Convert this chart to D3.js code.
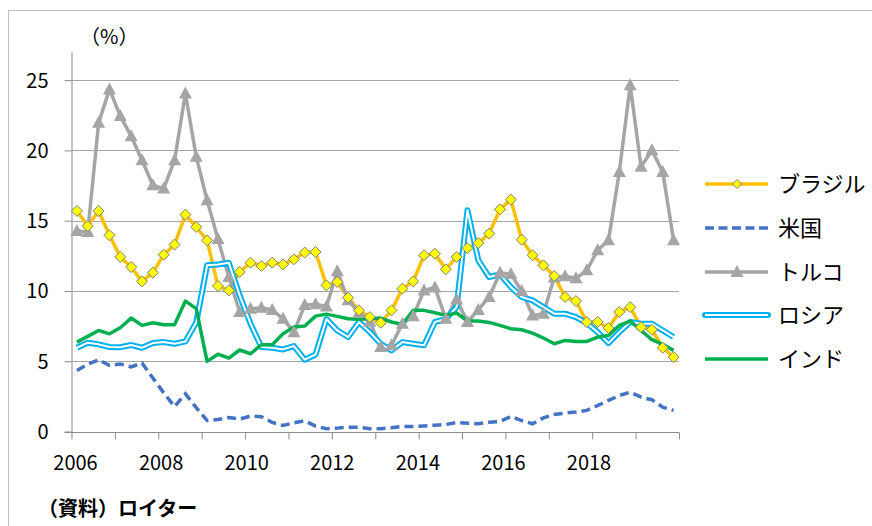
<!DOCTYPE html>
<html>
<head>
<meta charset="utf-8">
<script src="https://cdn.jsdelivr.net/npm/d3@7"></script>
<style>
  body { margin: 0; background: #fff; }
  svg text { font-family: "Noto Sans CJK JP", "Noto Sans", sans-serif; fill: #000; }
</style>
</head>
<body>
<div id="chart"></div>
<script>
// 四半期データ 2006Q1–2019Q4（56点）
const brazil = [15.69, 14.62, 15.69, 13.96, 12.42, 11.70, 10.68, 11.30, 12.58, 13.30, 15.43, 14.55, 13.60, 10.35, 10.04, 11.35,
  12.01, 11.78, 12.01, 11.89, 12.25, 12.73, 12.77, 10.40, 10.64, 9.52, 8.62, 8.14, 7.74, 8.62, 10.16, 10.68,
  12.54, 12.65, 11.54, 12.42, 13.04, 13.41, 14.08, 15.81, 16.50, 13.65, 12.54, 11.82, 11.06, 9.57, 9.28, 7.79,
  7.79, 7.36, 8.50, 8.85, 7.43, 7.24, 5.96, 5.29];
const usa = [4.34, 4.8, 5.1, 4.70, 4.8, 4.6, 4.87, 3.8, 2.75, 1.77, 2.68, 1.7, 0.78, 0.85, 1.0, 0.88,
  1.1, 1.05, 0.65, 0.43, 0.62, 0.76, 0.38, 0.2, 0.24, 0.31, 0.31, 0.2, 0.2, 0.26, 0.36, 0.36,
  0.4, 0.45, 0.5, 0.64, 0.59, 0.55, 0.66, 0.71, 1.07, 0.78, 0.55, 0.97, 1.21, 1.31, 1.38, 1.50,
  1.85, 2.21, 2.56, 2.80, 2.44, 2.26, 1.73, 1.50];
const turkey = [14.27, 14.20, 21.96, 24.34, 22.44, 21.01, 19.30, 17.52, 17.28, 19.30, 24.05, 19.54, 16.45, 13.70, 11.0, 8.50,
  8.74, 8.80, 8.65, 8.02, 7.07, 9.0, 9.05, 8.9, 11.40, 9.33, 8.45, 7.8, 6.01, 6.13, 7.67, 8.2,
  10.04, 10.25, 8.02, 9.4, 7.79, 8.65, 9.57, 11.3, 11.2, 10.0, 8.26, 8.38, 10.95, 11.05, 10.9, 11.47,
  12.89, 13.60, 18.47, 24.64, 18.83, 20.01, 18.47, 13.60];
const russia = [5.96, 6.32, 6.20, 6.01, 6.0, 6.15, 5.96, 6.29, 6.36, 6.24, 6.41, 7.75, 11.82, 11.88, 12.0, 9.69,
  7.67, 6.01, 5.96, 5.84, 6.08, 5.11, 5.48, 8.0, 7.19, 6.72, 7.79, 7.07, 6.24, 5.77, 6.36, 6.24,
  6.13, 7.79, 8.0, 8.85, 15.74, 12.18, 10.99, 11.18, 10.28, 9.57, 9.33, 8.85, 8.38, 8.38, 8.14, 7.72,
  7.07, 6.29, 7.07, 7.79, 7.67, 7.67, 7.19, 6.72];
const india = [6.36, 6.77, 7.19, 6.95, 7.38, 8.07, 7.55, 7.74, 7.60, 7.60, 9.28, 8.74, 4.99, 5.50, 5.22, 5.80,
  5.53, 6.17, 6.17, 6.96, 7.43, 7.50, 8.21, 8.35, 8.19, 8.02, 7.98, 8.02, 8.07, 7.79, 7.62, 8.62,
  8.62, 8.45, 8.26, 8.43, 7.86, 7.86, 7.76, 7.55, 7.31, 7.24, 7.00, 6.65, 6.24, 6.48, 6.41, 6.41,
  6.72, 6.84, 7.55, 7.86, 7.19, 6.53, 6.20, 5.77];

const yearLabels = [2006, 2008, 2010, 2012, 2014, 2016, 2018];
const yTicks = [0, 5, 10, 15, 20, 25];
const seriesNames = ["ブラジル", "米国", "トルコ", "ロシア", "インド"];

const W = 872, H = 526;
const svg = d3.select("#chart").append("svg").attr("width", W).attr("height", H);

// 外枠
svg.append("rect").attr("x", 8.5).attr("y", 10.5).attr("width", W).attr("height", H)
  .attr("fill", "none").attr("stroke", "#bfbfbf");

const nQ = brazil.length;
const x = d3.scaleLinear().domain([0, nQ]).range([71.5, 679]);
const y = d3.scaleLinear().domain([0, 27]).range([431.5, 52]);
const px = i => x(i + 0.5);

// 年ラベル位置（元図のラベル間隔に合わせる）
const xLabel = d3.scaleLinear().domain([2006, 2018]).range([75.5, 589]);

// グリッド
svg.append("g").selectAll("line").data(yTicks.filter(d => d > 0)).join("line")
  .attr("x1", x(0)).attr("x2", x(nQ))
  .attr("y1", d => Math.round(y(d)) + 0.5).attr("y2", d => Math.round(y(d)) + 0.5)
  .attr("stroke", "#a6a6a6").attr("stroke-width", 1);

// Y軸
const yAxis = svg.append("g").attr("transform", `translate(${x(0)},0)`)
  .call(d3.axisLeft(y).tickValues(yTicks).tickSize(7).tickPadding(16).tickSizeOuter(0));
yAxis.select(".domain").attr("stroke", "#8c8c8c");
yAxis.selectAll(".tick line").attr("stroke", "#8c8c8c");
yAxis.selectAll(".tick text").attr("font-size", 20).attr("dy", "0.35em");

// X軸
const xAxis = svg.append("g").attr("transform", `translate(0,${Math.round(y(0)) + 0.5})`)
  .call(d3.axisBottom(x).tickValues(d3.range(0, nQ + 1, 4)).tickSize(7).tickFormat("").tickSizeOuter(0));
xAxis.select(".domain").attr("stroke", "#8c8c8c").attr("d", `M${x(0) - 7},0H${x(nQ)}`);
xAxis.selectAll(".tick line").attr("stroke", "#8c8c8c");

svg.append("g").selectAll("text").data(yearLabels).join("text")
  .attr("x", d => xLabel(d)).attr("y", 470)
  .attr("text-anchor", "middle").attr("font-size", 20)
  .text(d => d);

// 単位・出所
svg.append("text").attr("x", 80).attr("y", 44).attr("font-size", 20).text("（%）");
svg.append("text").attr("x", 38).attr("y", 516).attr("font-size", 20).attr("font-weight", "bold")
  .text("（資料）ロイター");

const line = d3.line().x((d, i) => px(i)).y(d => y(d));

const plot = svg.append("g");
plot.append("path").datum(brazil).attr("d", line)
  .attr("fill", "none").attr("stroke", "#ffc000").attr("stroke-width", 3.5).attr("stroke-linejoin", "round");
plot.append("path").datum(usa).attr("d", line)
  .attr("fill", "none").attr("stroke", "#4472c4").attr("stroke-width", 3.5).attr("stroke-dasharray", "9,5");
plot.append("path").datum(turkey).attr("d", line)
  .attr("fill", "none").attr("stroke", "#a5a5a5").attr("stroke-width", 3.5).attr("stroke-linejoin", "round");
plot.append("path").datum(russia).attr("d", line)
  .attr("fill", "none").attr("stroke", "#00b0f0").attr("stroke-width", 6).attr("stroke-linejoin", "round");
plot.append("path").datum(russia).attr("d", line)
  .attr("fill", "none").attr("stroke", "#fff").attr("stroke-width", 2).attr("stroke-linejoin", "round");
plot.append("path").datum(india).attr("d", line)
  .attr("fill", "none").attr("stroke", "#00b050").attr("stroke-width", 3.5).attr("stroke-linejoin", "round");

const diamond = "M0,-5.5L5.5,0L0,5.5L-5.5,0Z";
const triangle = "M0,-7L6.5,5L-6.5,5Z";

plot.append("g").selectAll("path").data(turkey).join("path")
  .attr("d", triangle).attr("transform", (d, i) => `translate(${px(i)},${y(d)})`)
  .attr("fill", "#a5a5a5");
plot.append("g").selectAll("path").data(brazil).join("path")
  .attr("d", diamond).attr("transform", (d, i) => `translate(${px(i)},${y(d)})`)
  .attr("fill", "#ffff00").attr("stroke", "#7f7f7f").attr("stroke-width", 1);

// 凡例
const legend = svg.append("g").attr("transform", "translate(705,0)");
const rowsY = [184, 228, 272, 315, 359];
seriesNames.forEach((name, k) => {
  const g = legend.append("g").attr("transform", `translate(0,${rowsY[k]})`);
  if (k === 0) {
    g.append("line").attr("x1", 0).attr("x2", 63).attr("stroke", "#ffc000").attr("stroke-width", 3.5);
    g.append("path").attr("d", "M0,-4.5L4.5,0L0,4.5L-4.5,0Z").attr("transform", "translate(32,0)")
      .attr("fill", "#ffff00").attr("stroke", "#7f7f7f");
  } else if (k === 1) {
    g.append("line").attr("x1", 0).attr("x2", 63).attr("stroke", "#4472c4").attr("stroke-width", 3.5)
      .attr("stroke-dasharray", "9,4.5");
  } else if (k === 2) {
    g.append("line").attr("x1", 0).attr("x2", 63).attr("stroke", "#a5a5a5").attr("stroke-width", 3.5);
    g.append("path").attr("d", triangle).attr("transform", "translate(32,0)").attr("fill", "#a5a5a5");
  } else if (k === 3) {
    g.append("line").attr("x1", 0).attr("x2", 63).attr("stroke", "#00b0f0").attr("stroke-width", 6)
      .attr("stroke-linecap", "round");
    g.append("line").attr("x1", 0).attr("x2", 63).attr("stroke", "#fff").attr("stroke-width", 2);
  } else {
    g.append("line").attr("x1", 0).attr("x2", 63).attr("stroke", "#00b050").attr("stroke-width", 3.5);
  }
  g.append("text").attr("x", 73).attr("y", 0).attr("dy", "0.36em").attr("font-size", 22).text(name);
});
</script>
</body>
</html>
